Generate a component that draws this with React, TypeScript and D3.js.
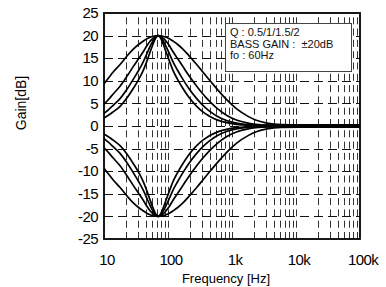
import React, { useRef, useEffect } from 'react';
import * as d3 from 'd3';

const WIDTH = 386;
const HEIGHT = 287;

// Frequency points (Hz) shared by every curve
const freqs = [8.5, 9.5, 10.5, 12.5, 16, 21, 26, 31.5, 37, 42, 47, 52.5, 58, 63, 68.5, 75.5, 84, 94.5, 107, 126, 152, 189, 252, 315, 378, 420, 525, 735, 1050, 1600, 2100, 3150, 5250, 10500, 95000];

// Boost curves in dB, one per Q (the cut curves are their mirror image)
const gainQ05 = [9.0, 9.79, 10.57, 11.94, 13.6, 15.64, 17.07, 18.09, 18.81, 19.31, 19.65, 19.86, 19.97, 20, 19.97, 19.86, 19.65, 19.31, 18.81, 18.09, 17.07, 15.64, 13.6, 11.94, 10.57, 9.79, 8.16, 5.87, 3.83, 2.13, 1.32, 0.64, 0.3, 0.25, 0.25];
const gainQ1 = [4.53, 5.16, 5.83, 7.09, 8.79, 11.21, 13.24, 14.98, 16.48, 17.74, 18.74, 19.46, 19.87, 20, 19.87, 19.46, 18.74, 17.74, 16.48, 14.98, 13.24, 11.21, 8.79, 7.09, 5.83, 5.16, 3.88, 2.39, 1.33, 0.64, 0.37, 0.2, 0.2, 0.2, 0.2];
const gainQ15 = [2.61, 3.06, 3.57, 4.58, 6.06, 8.34, 10.43, 12.39, 14.24, 15.98, 17.57, 18.87, 19.72, 20, 19.72, 18.87, 17.57, 15.98, 14.24, 12.39, 10.43, 8.34, 6.06, 4.58, 3.57, 3.06, 2.17, 1.23, 0.64, 0.3, 0.17, 0.15, 0.15, 0.15, 0.15];
const gainQ2 = [1.66, 1.98, 2.36, 3.14, 4.36, 6.4, 8.4, 10.37, 12.35, 14.35, 16.33, 18.15, 19.51, 20, 19.51, 18.15, 16.33, 14.35, 12.35, 10.37, 8.4, 6.4, 4.36, 3.14, 2.36, 1.98, 1.35, 0.73, 0.37, 0.17, 0.1, 0.1, 0.1, 0.1, 0.1];
const boostCurves = [gainQ05, gainQ1, gainQ15, gainQ2];
const curveSigns = [1, -1]; // boost, cut

const yTicks = [25, 20, 15, 10, 5, 0, -5, -10, -15, -20, -25];
const gridDb = [20, 15, 10, 5, 0, -5, -10, -15, -20];
const xTickValues = [10, 100, 1000, 10000, 100000];
const xTickLabels = ['10', '100', '1k', '10k', '100k'];
const legendLines = ['Q : 0.5/1/1.5/2', 'BASS GAIN :  \u00b120dB', 'fo : 60Hz'];

const FONT = '"Liberation Sans", Arial, sans-serif';

export default function App() {
  const svgRef = useRef<SVGSVGElement>(null);

  useEffect(() => {
    if (!svgRef.current) return;
    const svg = d3.select(svgRef.current);
    svg.selectAll('*').remove();

    // plot frame
    const frame = { left: 104, right: 360, top: 13, bottom: 239 };

    const x = d3.scaleLog().domain([10, 100000]).range([107, 363]);
    const y = d3.scaleLinear().domain([-25, 25]).range([frame.bottom, frame.top]);

    svg.append('defs')
      .append('clipPath')
      .attr('id', 'plot-clip')
      .append('rect')
      .attr('x', frame.left)
      .attr('y', frame.top)
      .attr('width', frame.right - frame.left)
      .attr('height', frame.bottom - frame.top);

    // minor grid (2..9 of every decade, decade lines are not drawn)
    const minorFreqs: number[] = [];
    [10, 100, 1000, 10000].forEach(dec => {
      for (let k = 2; k <= 9; k++) minorFreqs.push(dec * k);
    });

    svg.append('g')
      .selectAll('line')
      .data(minorFreqs.filter(f => x(f) < frame.right - 1))
      .join('line')
      .attr('x1', d => Math.round(x(d)) + 0.5)
      .attr('x2', d => Math.round(x(d)) + 0.5)
      .attr('y1', frame.top)
      .attr('y2', frame.bottom)
      .attr('stroke', '#333')
      .attr('stroke-width', 1)
      .attr('stroke-dasharray', '7 4.3')
      .attr('stroke-dashoffset', 7);

    svg.append('g')
      .selectAll('line')
      .data(gridDb)
      .join('line')
      .attr('x1', frame.left)
      .attr('x2', frame.right)
      .attr('y1', d => Math.round(y(d)) + 0.5)
      .attr('y2', d => Math.round(y(d)) + 0.5)
      .attr('stroke', '#111')
      .attr('stroke-width', 1)
      .attr('stroke-dasharray', '9 5');

    // curves
    const line = d3.line<number>()
      .x((_, i) => x(freqs[i]))
      .y(d => y(d))
      .curve(d3.curveMonotoneX);

    const curveG = svg.append('g').attr('clip-path', 'url(#plot-clip)');
    curveSigns.forEach(sign => {
      boostCurves.forEach(gains => {
        curveG.append('path')
          .attr('d', line(gains.map(g => sign * g)))
          .attr('fill', 'none')
          .attr('stroke', '#000')
          .attr('stroke-width', 1.7)
          .attr('stroke-linejoin', 'round');
      });
    });

    // legend box
    const legend = svg.append('g');
    legend.append('rect')
      .attr('x', 225.5)
      .attr('y', 23.5)
      .attr('width', 126)
      .attr('height', 48)
      .attr('fill', '#fff')
      .attr('stroke', '#444')
      .attr('stroke-width', 1);
    legend.selectAll('text')
      .data(legendLines)
      .join('text')
      .attr('x', 230)
      .attr('y', (_, i) => 36 + i * 11.6)
      .attr('font-family', FONT)
      .attr('font-size', 11)
      .attr('fill', '#111')
      .style('white-space', 'pre')
      .text(d => d);

    // frame
    svg.append('rect')
      .attr('x', frame.left)
      .attr('y', frame.top)
      .attr('width', frame.right - frame.left)
      .attr('height', frame.bottom - frame.top)
      .attr('fill', 'none')
      .attr('stroke', '#000')
      .attr('stroke-width', 1.8);

    // y tick labels
    svg.append('g')
      .selectAll('text')
      .data(yTicks)
      .join('text')
      .attr('x', 98)
      .attr('y', d => y(d))
      .attr('dy', '0.35em')
      .attr('text-anchor', 'end')
      .attr('font-family', FONT)
      .attr('font-size', 15)
      .attr('letter-spacing', -0.6)
      .text(d => d);

    // x tick labels
    svg.append('g')
      .selectAll('text')
      .data(xTickValues)
      .join('text')
      .attr('x', d => x(d))
      .attr('y', 265)
      .attr('text-anchor', 'middle')
      .attr('font-family', FONT)
      .attr('font-size', 15)
      .attr('letter-spacing', -0.6)
      .text((_, i) => xTickLabels[i]);

    // axis titles
    svg.append('text')
      .attr('x', 226)
      .attr('y', 283)
      .attr('text-anchor', 'middle')
      .attr('font-family', FONT)
      .attr('font-size', 13)
      .text('Frequency [Hz]');

    svg.append('text')
      .attr('transform', 'translate(26,103) rotate(-90)')
      .attr('text-anchor', 'middle')
      .attr('font-family', FONT)
      .attr('font-size', 14)
      .text('Gain[dB]');
  }, []);

  return (
    <div style={{ position: 'fixed', left: 0, top: 0, width: WIDTH, height: HEIGHT, background: '#fff' }}>
      <svg ref={svgRef} width={WIDTH} height={HEIGHT} style={{ display: 'block' }} />
    </div>
  );
}
